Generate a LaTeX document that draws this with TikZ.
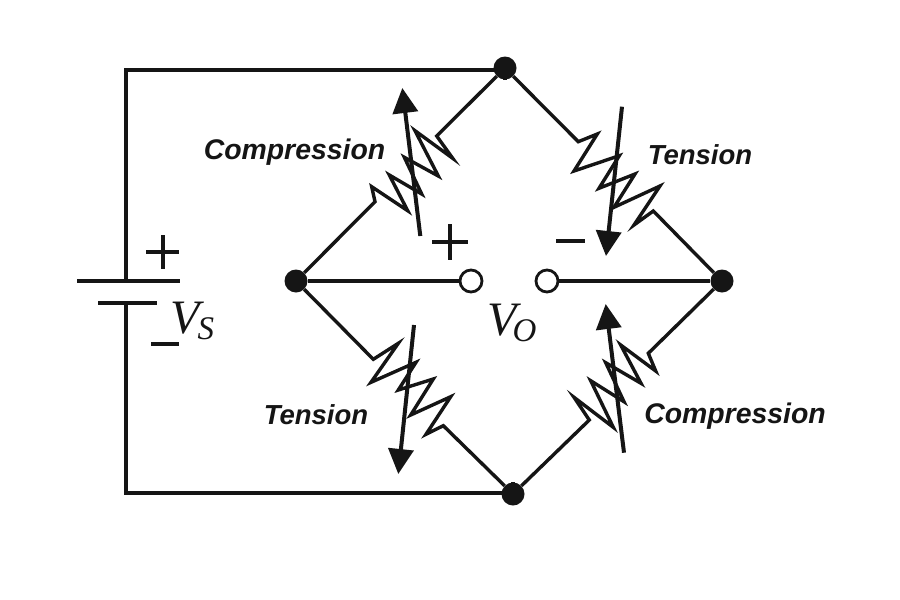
\documentclass[tikz,border=0pt]{standalone}
\usepackage{fontspec}
\setmainfont{Liberation Sans}
\newfontfamily\vfont{Liberation Serif}
\usetikzlibrary{arrows.meta}
\definecolor{ink}{HTML}{151515}
\newcommand{\voltsym}[2]{{\fontsize{48pt}{48pt}\selectfont V}\kern#2\raisebox{-6pt}{\fontsize{33pt}{33pt}\selectfont #1}}
\tikzset{
  wire/.style={draw=ink,line width=3.4pt,line join=miter,miter limit=10},
  dotnode/.style={circle,fill=ink,draw=none,minimum size=23pt,inner sep=0pt},
  termnode/.style={circle,fill=white,draw=ink,line width=2.8pt,minimum size=22pt,inner sep=0pt},
  strain/.style={draw=ink,line width=4pt,line cap=butt,-{Triangle[length=25pt,width=25pt,fill=ink]}},
  gaugelabel/.style={font=\fontsize{27.5pt}{30pt}\selectfont\bfseries\itshape,text=ink,inner sep=0pt},
  gaugewide/.style={gaugelabel,font=\fontsize{28.4pt}{30pt}\selectfont\bfseries\itshape},
  signbar/.style={draw=ink,line width=4pt},
  voltlabel/.style={font=\vfont\itshape,text=ink,inner sep=0pt}
}
\begin{document}
\begin{tikzpicture}[x=1pt,y=-1pt]
\useasboundingbox[fill=white] (0,0) rectangle (900,600);
% junctions and terminals
\node[dotnode] (nT) at (505,68) {};
\node[dotnode] (nB) at (513,494) {};
\node[dotnode] (nL) at (296,281) {};
\node[dotnode] (nR) at (722,281) {};
\coordinate (pA) at (77,281);
\coordinate (pB) at (180,281);
\coordinate (mA) at (98,303);
\coordinate (mB) at (157,303);
\coordinate (bT) at (126,281);
\coordinate (bB) at (126,303);
% supply loop
\draw[wire] (bT) -- (126,70) -- (505,70) -- (nT);
\draw[wire] (bB) -- (126,493) -- (513,493) -- (nB);
\draw[wire] (pA) -- (pB);
\draw[wire] (mA) -- (mB);
% output wires and terminals
\node[termnode] (tA) at (471,281) {};
\node[termnode] (tB) at (547,281) {};
\draw[wire] (nL) -- (tA);
\draw[wire] (nR) -- (tB);
% resistors
\draw[wire] (nL) -- (375,201.7) -- (371.7,186.7) -- (407.7,210.7) -- (389.3,175) -- (421.7,194) -- (404.3,157.3) -- (438.3,176) -- (415,130.7) -- (452.7,158.3) -- (436.7,136) -- (nT);
\draw[wire] (nT) -- (578.3,141.7) -- (597.3,134) -- (574,171) -- (619.3,155.7) -- (599,188.3) -- (635,174) -- (614,207.3) -- (660,186) -- (634,225) -- (653.3,211) -- (nR);
\draw[wire] (nL) -- (373.3,359.3) -- (398.3,343.3) -- (371,382.3) -- (416,362.3) -- (398.3,390) -- (433.3,379) -- (410.7,415) -- (450.7,396.7) -- (426,434.3) -- (443.3,425.7) -- (nB);
\draw[wire] (nB) -- (589.3,420) -- (574,397.3) -- (613.3,427.3) -- (590.7,380.7) -- (624,401.7) -- (605.7,362.7) -- (641,383.3) -- (620.7,345) -- (655.7,371) -- (648.3,353.3) -- (nR);
% strain arrows
\coordinate (aTLs) at (420.3,236); \coordinate (aTLe) at (402.3,88);
\coordinate (aTRs) at (622,106.7); \coordinate (aTRe) at (606,256);
\coordinate (aBLs) at (414,325);   \coordinate (aBLe) at (398.3,474);
\coordinate (aBRs) at (624,452.7); \coordinate (aBRe) at (605.7,304);
\draw[strain] (aTLs) -- (aTLe);
\draw[strain] (aTRs) -- (aTRe);
\draw[strain] (aBLs) -- (aBLe);
\draw[strain] (aBRs) -- (aBRe);
% gauge labels
\node[gaugewide,anchor=center] (lTL) at (294.5,152.5) {Compression};
\node[gaugelabel,anchor=center] (lTR) at (700,155) {Tension};
\node[gaugelabel,anchor=center] (lBL) at (316,415) {Tension};
\node[gaugewide,anchor=center] (lBR) at (735,416) {Compression};
% polarity signs
\draw[signbar] (146,251.7) -- (179,251.7) (162.7,235) -- (162.7,269);
\draw[signbar] (151,344) -- (179,344);
\draw[signbar] (432,242) -- (468,242) (450,224) -- (450,260);
\draw[signbar] (556,241) -- (585,241);
% voltage labels
\node[voltlabel,anchor=base west] (vs) at (170,333) {\voltsym{S}{-2pt}};
\node[voltlabel,anchor=base west] (vo) at (487,335) {\voltsym{O}{-4pt}};
\end{tikzpicture}
\end{document}
